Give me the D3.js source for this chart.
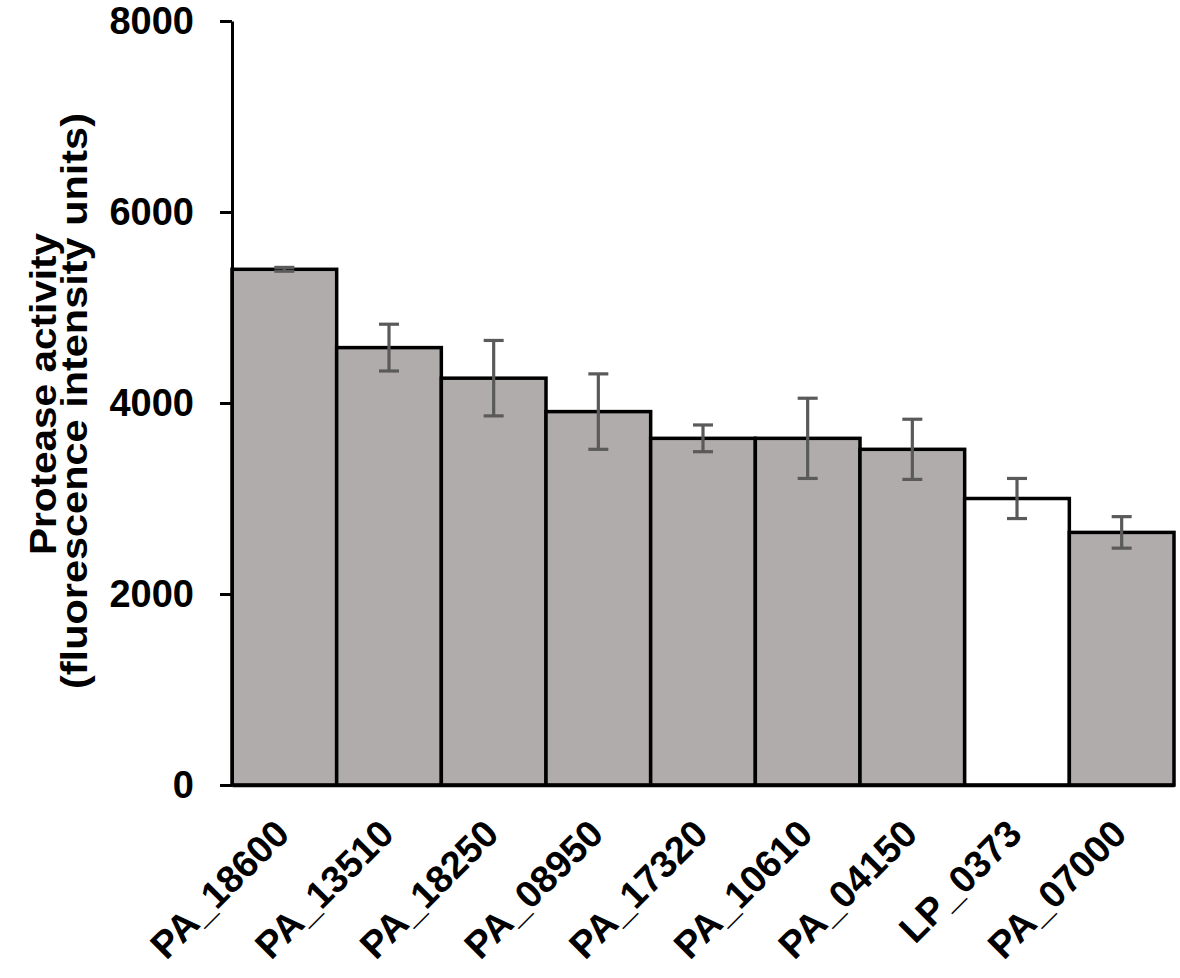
<!doctype html>
<html>
<head>
  <meta charset="utf-8">
  <script src="https://cdn.jsdelivr.net/npm/d3@7"></script>
</head>
<body style="margin:0px; background:#fff">
<script>

// data
var genes = ["PA_18600", "PA_13510", "PA_18250", "PA_08950", "PA_17320", "PA_10610", "PA_04150", "LP_0373", "PA_07000"];
var activity = [5400, 4580, 4260, 3910, 3630, 3630, 3515, 3000, 2645];
var errors = [20, 245, 395, 395, 140, 420, 315, 210, 165];
var yTicks = [0, 2000, 4000, 6000, 8000];

var w = 1180, h = 978;
var font = "'Liberation Sans', Arial, sans-serif";

var svg = d3.select("body").append("svg").attr("width", w).attr("height", h);

var x = d3.scaleBand().domain(genes).range([232, 1174]).padding(0);
var y = d3.scaleLinear().domain([0, 8000]).range([785, 21]);

// LP strain drawn white, PA strains grey
var fill = d3.scaleOrdinal().domain(["PA", "LP"]).range(["#b0acab", "#ffffff"]);

var data = genes.map(function(g, i) {
  return {gene: g, value: activity[i], err: errors[i]};
});

svg.selectAll("rect.bar")
   .data(data)
   .enter()
   .append("rect")
     .attr("class", "bar")
     .attr("x", function(d) { return x(d.gene); })
     .attr("y", function(d) { return y(d.value); })
     .attr("width", x.bandwidth())
     .attr("height", function(d) { return y(0) - y(d.value); })
     .attr("fill", function(d) { return fill(d.gene.split("_")[0]); })
     .attr("stroke", "#000")
     .attr("stroke-width", 3.5);

// error bars
var eb = svg.selectAll("g.err")
   .data(data)
   .enter()
   .append("g")
     .attr("class", "err")
     .attr("transform", function(d) {
       return "translate(" + (x(d.gene) + x.bandwidth() / 2) + ",0)";
     })
     .attr("stroke", "#5a5a5a")
     .attr("stroke-width", 3.2);

eb.append("line")
  .attr("y1", function(d) { return y(d.value - d.err); })
  .attr("y2", function(d) { return y(d.value + d.err); });
eb.append("line")
  .attr("x1", -10).attr("x2", 10)
  .attr("y1", function(d) { return y(d.value + d.err); })
  .attr("y2", function(d) { return y(d.value + d.err); });
eb.append("line")
  .attr("x1", -10).attr("x2", 10)
  .attr("y1", function(d) { return y(d.value - d.err); })
  .attr("y2", function(d) { return y(d.value - d.err); });

// y axis
var yAxis = svg.append("g")
  .attr("transform", "translate(232,0)")
  .call(d3.axisLeft(y).tickValues(yTicks).tickFormat(d3.format("d"))
          .tickSize(12).tickSizeOuter(0).tickPadding(26));
yAxis.select(".domain").attr("stroke", "#000").attr("stroke-width", 3);
yAxis.selectAll(".tick line").attr("stroke", "#000").attr("stroke-width", 3);
yAxis.selectAll("text")
  .attr("font-family", font)
  .attr("font-weight", "bold")
  .attr("font-size", 38)
  .attr("fill", "#000");

// x axis line
var xAxis = svg.append("g")
  .attr("transform", "translate(0,785)")
  .call(d3.axisBottom(x).tickSize(0).tickSizeOuter(0).tickFormat(""));
xAxis.select(".domain").attr("stroke", "#000").attr("stroke-width", 3.5);

// rotated category labels
svg.selectAll("text.xlab")
   .data(genes)
   .enter()
   .append("text")
     .attr("class", "xlab")
     .attr("transform", function(d) {
       return "translate(" + (x(d) + x.bandwidth() / 2 + 7) + ",836) rotate(-45)";
     })
     .attr("text-anchor", "end")
     .attr("font-family", font)
     .attr("font-weight", "bold")
     .attr("font-size", 38)
     .text(function(d) { return d; });

// axis title
svg.append("text")
  .attr("transform", "translate(56,394) rotate(-90)")
  .attr("text-anchor", "middle")
  .attr("font-family", font)
  .attr("font-weight", "bold")
  .attr("font-size", 36)
  .attr("textLength", 322)
  .attr("lengthAdjust", "spacingAndGlyphs")
  .text("Protease activity");

svg.append("text")
  .attr("transform", "translate(87,401) rotate(-90)")
  .attr("text-anchor", "middle")
  .attr("font-family", font)
  .attr("font-weight", "bold")
  .attr("font-size", 36)
  .attr("textLength", 576)
  .attr("lengthAdjust", "spacingAndGlyphs")
  .text("(fluorescence intensity units)");

</script>
</body>
</html>
